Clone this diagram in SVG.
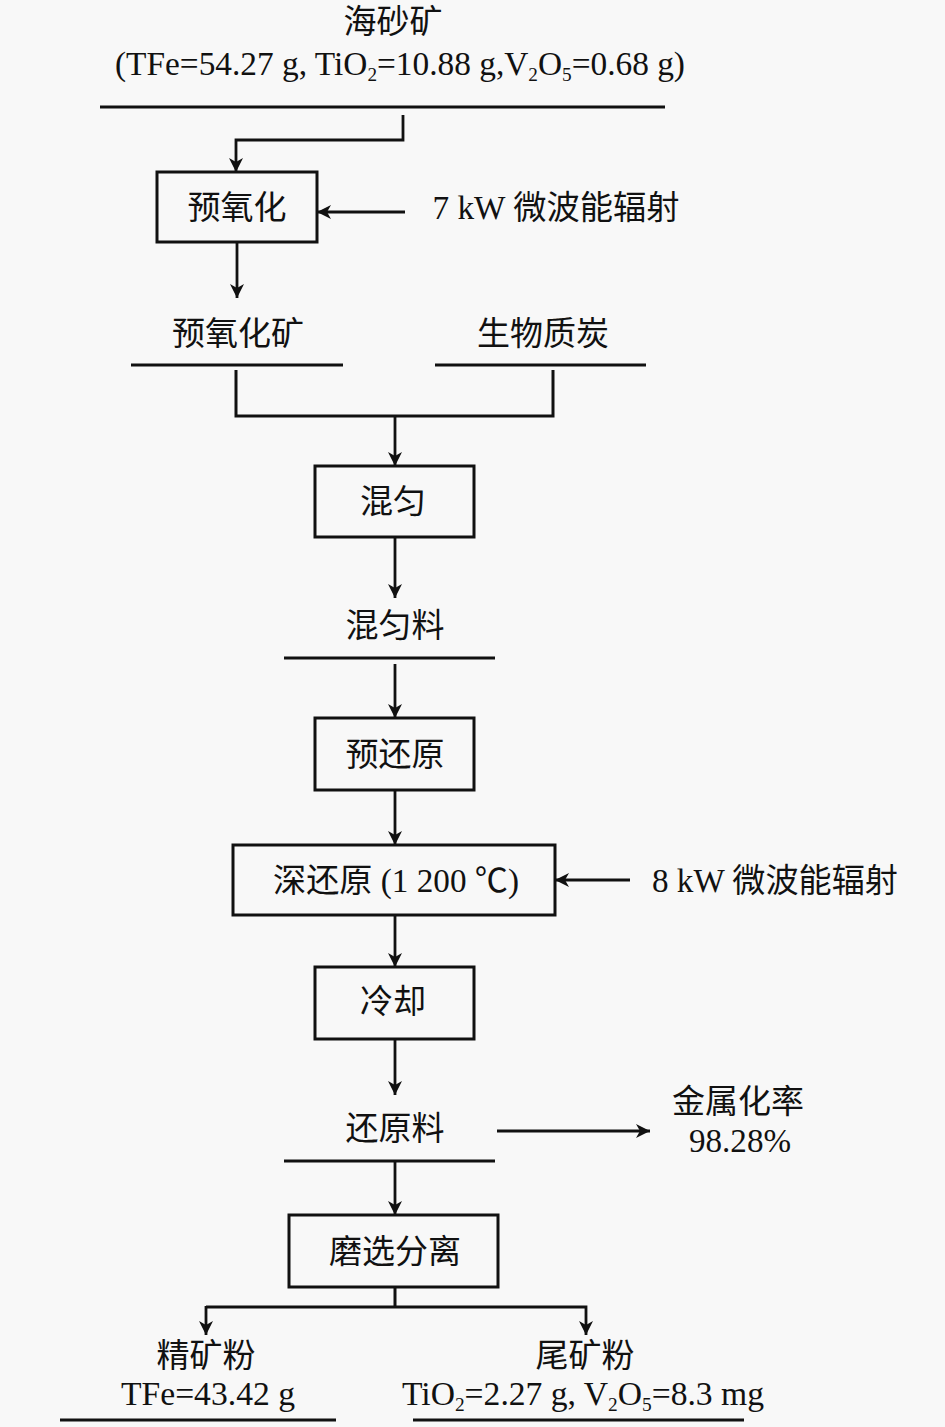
<svg xmlns="http://www.w3.org/2000/svg" width="945" height="1427" viewBox="0 0 945 1427">
<defs>
<marker id="ah" viewBox="0 0 14 14" refX="14" refY="7" markerWidth="14" markerHeight="14" orient="auto" markerUnits="userSpaceOnUse">
<path d="M0,0 L14,7 L0,14 L4,7 Z" fill="#111"/>
</marker>
<style>
text{font-family:"Liberation Serif","Noto Sans CJK SC",serif;font-size:33px;fill:#111;text-anchor:middle}
.box{fill:none;stroke:#111;stroke-width:3}
.ul{stroke:#111;stroke-width:3}
.c{fill:none;stroke:#111;stroke-width:3}
.arr{fill:none;stroke:#111;stroke-width:2.8}
</style>
</defs>
<rect width="945" height="1427" fill="#f8f8f8"/>
<g id="raw">
<text x="393" y="33">海砂矿</text>
<text x="400" y="75" textLength="570" lengthAdjust="spacingAndGlyphs" font-size="32">(TFe=54.27 g, TiO<tspan font-size="19" dy="6">2</tspan><tspan dy="-6">=10.88 g,V</tspan><tspan font-size="19" dy="6">2</tspan><tspan dy="-6">O</tspan><tspan font-size="19" dy="6">5</tspan><tspan dy="-6">=0.68 g)</tspan></text>
<line class="ul" x1="100" y1="107" x2="665" y2="107"/>
</g>
<g id="preox">
<rect class="box" x="157" y="172" width="160" height="70"/>
<text x="237" y="219">预氧化</text>
</g>
<g id="mw7">
<text x="556" y="219" textLength="247" lengthAdjust="spacingAndGlyphs">7 kW 微波能辐射</text>
</g>
<g id="preoxore">
<text x="238" y="345">预氧化矿</text>
<line class="ul" x1="131" y1="365" x2="343" y2="365"/>
</g>
<g id="biochar">
<text x="543" y="345">生物质炭</text>
<line class="ul" x1="435" y1="365" x2="646" y2="365"/>
</g>
<g id="mix">
<rect class="box" x="315" y="466" width="159" height="71"/>
<text x="393" y="513">混匀</text>
</g>
<g id="mixed">
<text x="395" y="637">混匀料</text>
<line class="ul" x1="284" y1="658" x2="495" y2="658"/>
</g>
<g id="prered">
<rect class="box" x="315" y="718" width="159" height="72"/>
<text x="395" y="766">预还原</text>
</g>
<g id="deepred">
<rect class="box" x="233" y="845" width="322" height="70"/>
<text x="396" y="892" textLength="246" lengthAdjust="spacingAndGlyphs">深还原 (1 200 ℃)</text>
</g>
<g id="mw8">
<text x="775" y="892" textLength="246" lengthAdjust="spacingAndGlyphs">8 kW 微波能辐射</text>
</g>
<g id="cool">
<rect class="box" x="315" y="967" width="159" height="72"/>
<text x="393" y="1013">冷却</text>
</g>
<g id="reduced">
<text x="395" y="1140">还原料</text>
<line class="ul" x1="284" y1="1161" x2="495" y2="1161"/>
</g>
<g id="metal">
<text x="738" y="1113">金属化率</text>
<text x="740" y="1152" font-size="32" textLength="102" lengthAdjust="spacingAndGlyphs">98.28%</text>
</g>
<g id="sep">
<rect class="box" x="289" y="1215" width="209" height="72"/>
<text x="395" y="1263">磨选分离</text>
</g>
<g id="conc">
<text x="206" y="1367">精矿粉</text>
<text x="208" y="1405" font-size="32" textLength="174" lengthAdjust="spacingAndGlyphs">TFe=43.42 g</text>
<line class="ul" x1="60" y1="1420" x2="336" y2="1420"/>
</g>
<g id="tail">
<text x="585" y="1367">尾矿粉</text>
<text x="583" y="1405" font-size="32" textLength="362" lengthAdjust="spacingAndGlyphs">TiO<tspan font-size="19" dy="6">2</tspan><tspan dy="-6">=2.27 g, V</tspan><tspan font-size="19" dy="6">2</tspan><tspan dy="-6">O</tspan><tspan font-size="19" dy="6">5</tspan><tspan dy="-6">=8.3 mg</tspan></text>
<line class="ul" x1="413" y1="1420" x2="744" y2="1420"/>
</g>
<g id="connectors">
<path class="arr" marker-end="url(#ah)" d="M403,115 V140 H236 V172"/>
<path class="arr" marker-end="url(#ah)" d="M405,212 H317"/>
<path class="arr" marker-end="url(#ah)" d="M237,242 V298"/>
<path class="c" d="M236,370 V416 H553 V370"/>
<path class="arr" marker-end="url(#ah)" d="M395,416 V466"/>
<path class="arr" marker-end="url(#ah)" d="M395,537 V598"/>
<path class="arr" marker-end="url(#ah)" d="M395,664 V718"/>
<path class="arr" marker-end="url(#ah)" d="M395,790 V845"/>
<path class="arr" marker-end="url(#ah)" d="M630,880 H555"/>
<path class="arr" marker-end="url(#ah)" d="M395,915 V967"/>
<path class="arr" marker-end="url(#ah)" d="M395,1039 V1095"/>
<path class="arr" marker-end="url(#ah)" d="M497,1131 H650"/>
<path class="arr" marker-end="url(#ah)" d="M395,1161 V1215"/>
<path class="c" d="M395,1287 V1307"/>
<path class="arr" marker-end="url(#ah)" d="M206,1307 H586 V1335"/>
<path class="arr" marker-end="url(#ah)" d="M206,1306 V1335"/>
</g>
</svg>
